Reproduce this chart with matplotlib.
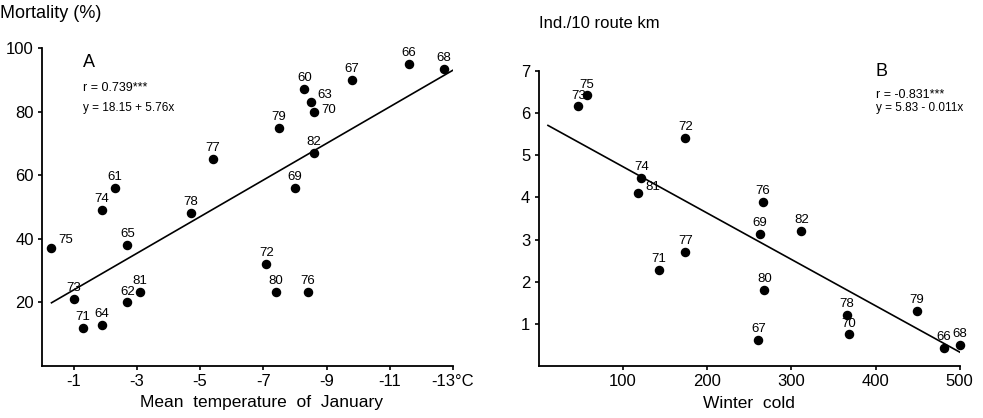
import numpy as np
import matplotlib
matplotlib.use("Agg")
import matplotlib.pyplot as plt

plt.rcParams["font.family"] = ["Liberation Sans", "DejaVu Sans"]

# Panel A: mean January temperature (deg C, plotted as negative) vs mortality (%)
years_a = ["75", "73", "71", "64", "62", "81", "65", "74", "61", "78", "77",
           "72", "80", "76", "69", "82", "79", "60", "63", "70", "67", "66", "68"]
temp_a = [-0.3, -1.0, -1.3, -1.9, -2.7, -3.1, -2.7, -1.9, -2.3, -4.7, -5.4,
          -7.1, -7.4, -8.4, -8.0, -8.6, -7.5, -8.3, -8.5, -8.6, -9.8, -11.6, -12.7]
mort_a = [37, 21, 12, 13, 20, 23.4, 38, 49, 56, 48, 65,
          32, 23.4, 23.4, 56, 67, 75, 87, 83, 80, 90, 95, 93.5]
xticks_a = [-1, -3, -5, -7, -9, -11, -13]
xticklabels_a = ["-1", "-3", "-5", "-7", "-9", "-11", "-13°C"]
yticks_a = [20, 40, 60, 80, 100]
fit_a = (18.15, 5.76)      # y = a + b*|t|
fit_a_range = (0.3, 13.0)

# Panel B: winter cold vs individuals per 10 route km
years_b = ["73", "75", "72", "74", "81", "76", "69", "82", "77", "71",
           "80", "67", "78", "70", "79", "66", "68"]
cold_b = [47, 57, 174, 122, 118, 266, 263, 312, 174, 143,
          268, 261, 366, 368, 449, 481, 500]
ind_b = [6.16, 6.42, 5.42, 4.46, 4.1, 3.9, 3.13, 3.21, 2.7, 2.28,
         1.8, 0.62, 1.21, 0.75, 1.3, 0.43, 0.5]
xticks_b = [100, 200, 300, 400, 500]
yticks_b = [1, 2, 3, 4, 5, 6, 7]
fit_b = (5.83, -0.011)
fit_b_range = (11, 500)

# labels that sit to the right of their dot instead of above it
right_a = {"75": (5, 2), "63": (5, 1), "70": (5, -3)}
right_b = {"81": (5, 0)}

W, H = 983, 418
fig = plt.figure(figsize=(W / 100, H / 100), dpi=100)

axA = fig.add_axes([42 / W, 1 - 366 / H, 411 / W, 318 / H])
axB = fig.add_axes([538.7 / W, 1 - 366 / H, 421 / W, 295 / H])


def style(ax):
    for s in ("top", "right"):
        ax.spines[s].set_visible(False)
    for s in ("left", "bottom"):
        ax.spines[s].set_linewidth(1.3)
    ax.tick_params(direction="out", length=3, width=1.2, labelsize=12, pad=3)


def label_points(ax, xs, ys, labels, special):
    for x, y, t in zip(xs, ys, labels):
        if t in special:
            ax.annotate(t, (x, y), xytext=special[t], textcoords="offset points",
                        ha="left", va="bottom", fontsize=9.5, annotation_clip=False)
        else:
            ax.annotate(t, (x, y), xytext=(0, 3.5), textcoords="offset points",
                        ha="center", va="bottom", fontsize=9.5, annotation_clip=False)


# ---- Panel A
style(axA)
axA.scatter(temp_a, mort_a, s=34, color="black", zorder=3, clip_on=False)
tt = np.array(fit_a_range)
axA.plot(-tt, fit_a[0] + fit_a[1] * tt, color="black", lw=1.2)
label_points(axA, temp_a, mort_a, years_a, right_a)
axA.set_xlim(0, -13)
axA.set_ylim(0, 100)
axA.set_xticks(xticks_a)
axA.set_xticklabels(xticklabels_a)
axA.set_yticks(yticks_a)
axA.set_xlabel("Mean  temperature  of  January", fontsize=12.5)
axA.xaxis.set_label_coords(0.535, -0.092)
axA.text(0.10, 0.953, "A", transform=axA.transAxes, fontsize=13, va="center")
axA.text(0.10, 0.874, "r = 0.739***", transform=axA.transAxes, fontsize=9, va="center")
axA.text(0.10, 0.811, "y = 18.15 + 5.76x", transform=axA.transAxes, fontsize=8.5, va="center")

# ---- Panel B
style(axB)
axB.scatter(cold_b, ind_b, s=34, color="black", zorder=3, clip_on=False)
cc = np.array(fit_b_range)
axB.plot(cc, fit_b[0] + fit_b[1] * cc, color="black", lw=1.2)
label_points(axB, cold_b, ind_b, years_b, right_b)
axB.set_xlim(0, 500)
axB.set_ylim(0, 7)
axB.set_xticks(xticks_b)
axB.set_yticks(yticks_b)
axB.set_xlabel("Winter  cold", fontsize=12.5)
axB.xaxis.set_label_coords(0.5, -0.1)
axB.text(0.80, 1.0, "B", transform=axB.transAxes, fontsize=13, va="center")
axB.text(0.80, 0.919, "r = -0.831***", transform=axB.transAxes, fontsize=9, va="center")
axB.text(0.80, 0.875, "y = 5.83 - 0.011x", transform=axB.transAxes, fontsize=8.5, va="center")

fig.text(0 / W, 1 - 14 / H, "Mortality (%)", fontsize=13, va="center", ha="left")
fig.text(539 / W, 1 - 23 / H, "Ind./10 route km", fontsize=12, va="center", ha="left")

fig.savefig("out.png", dpi=100)
